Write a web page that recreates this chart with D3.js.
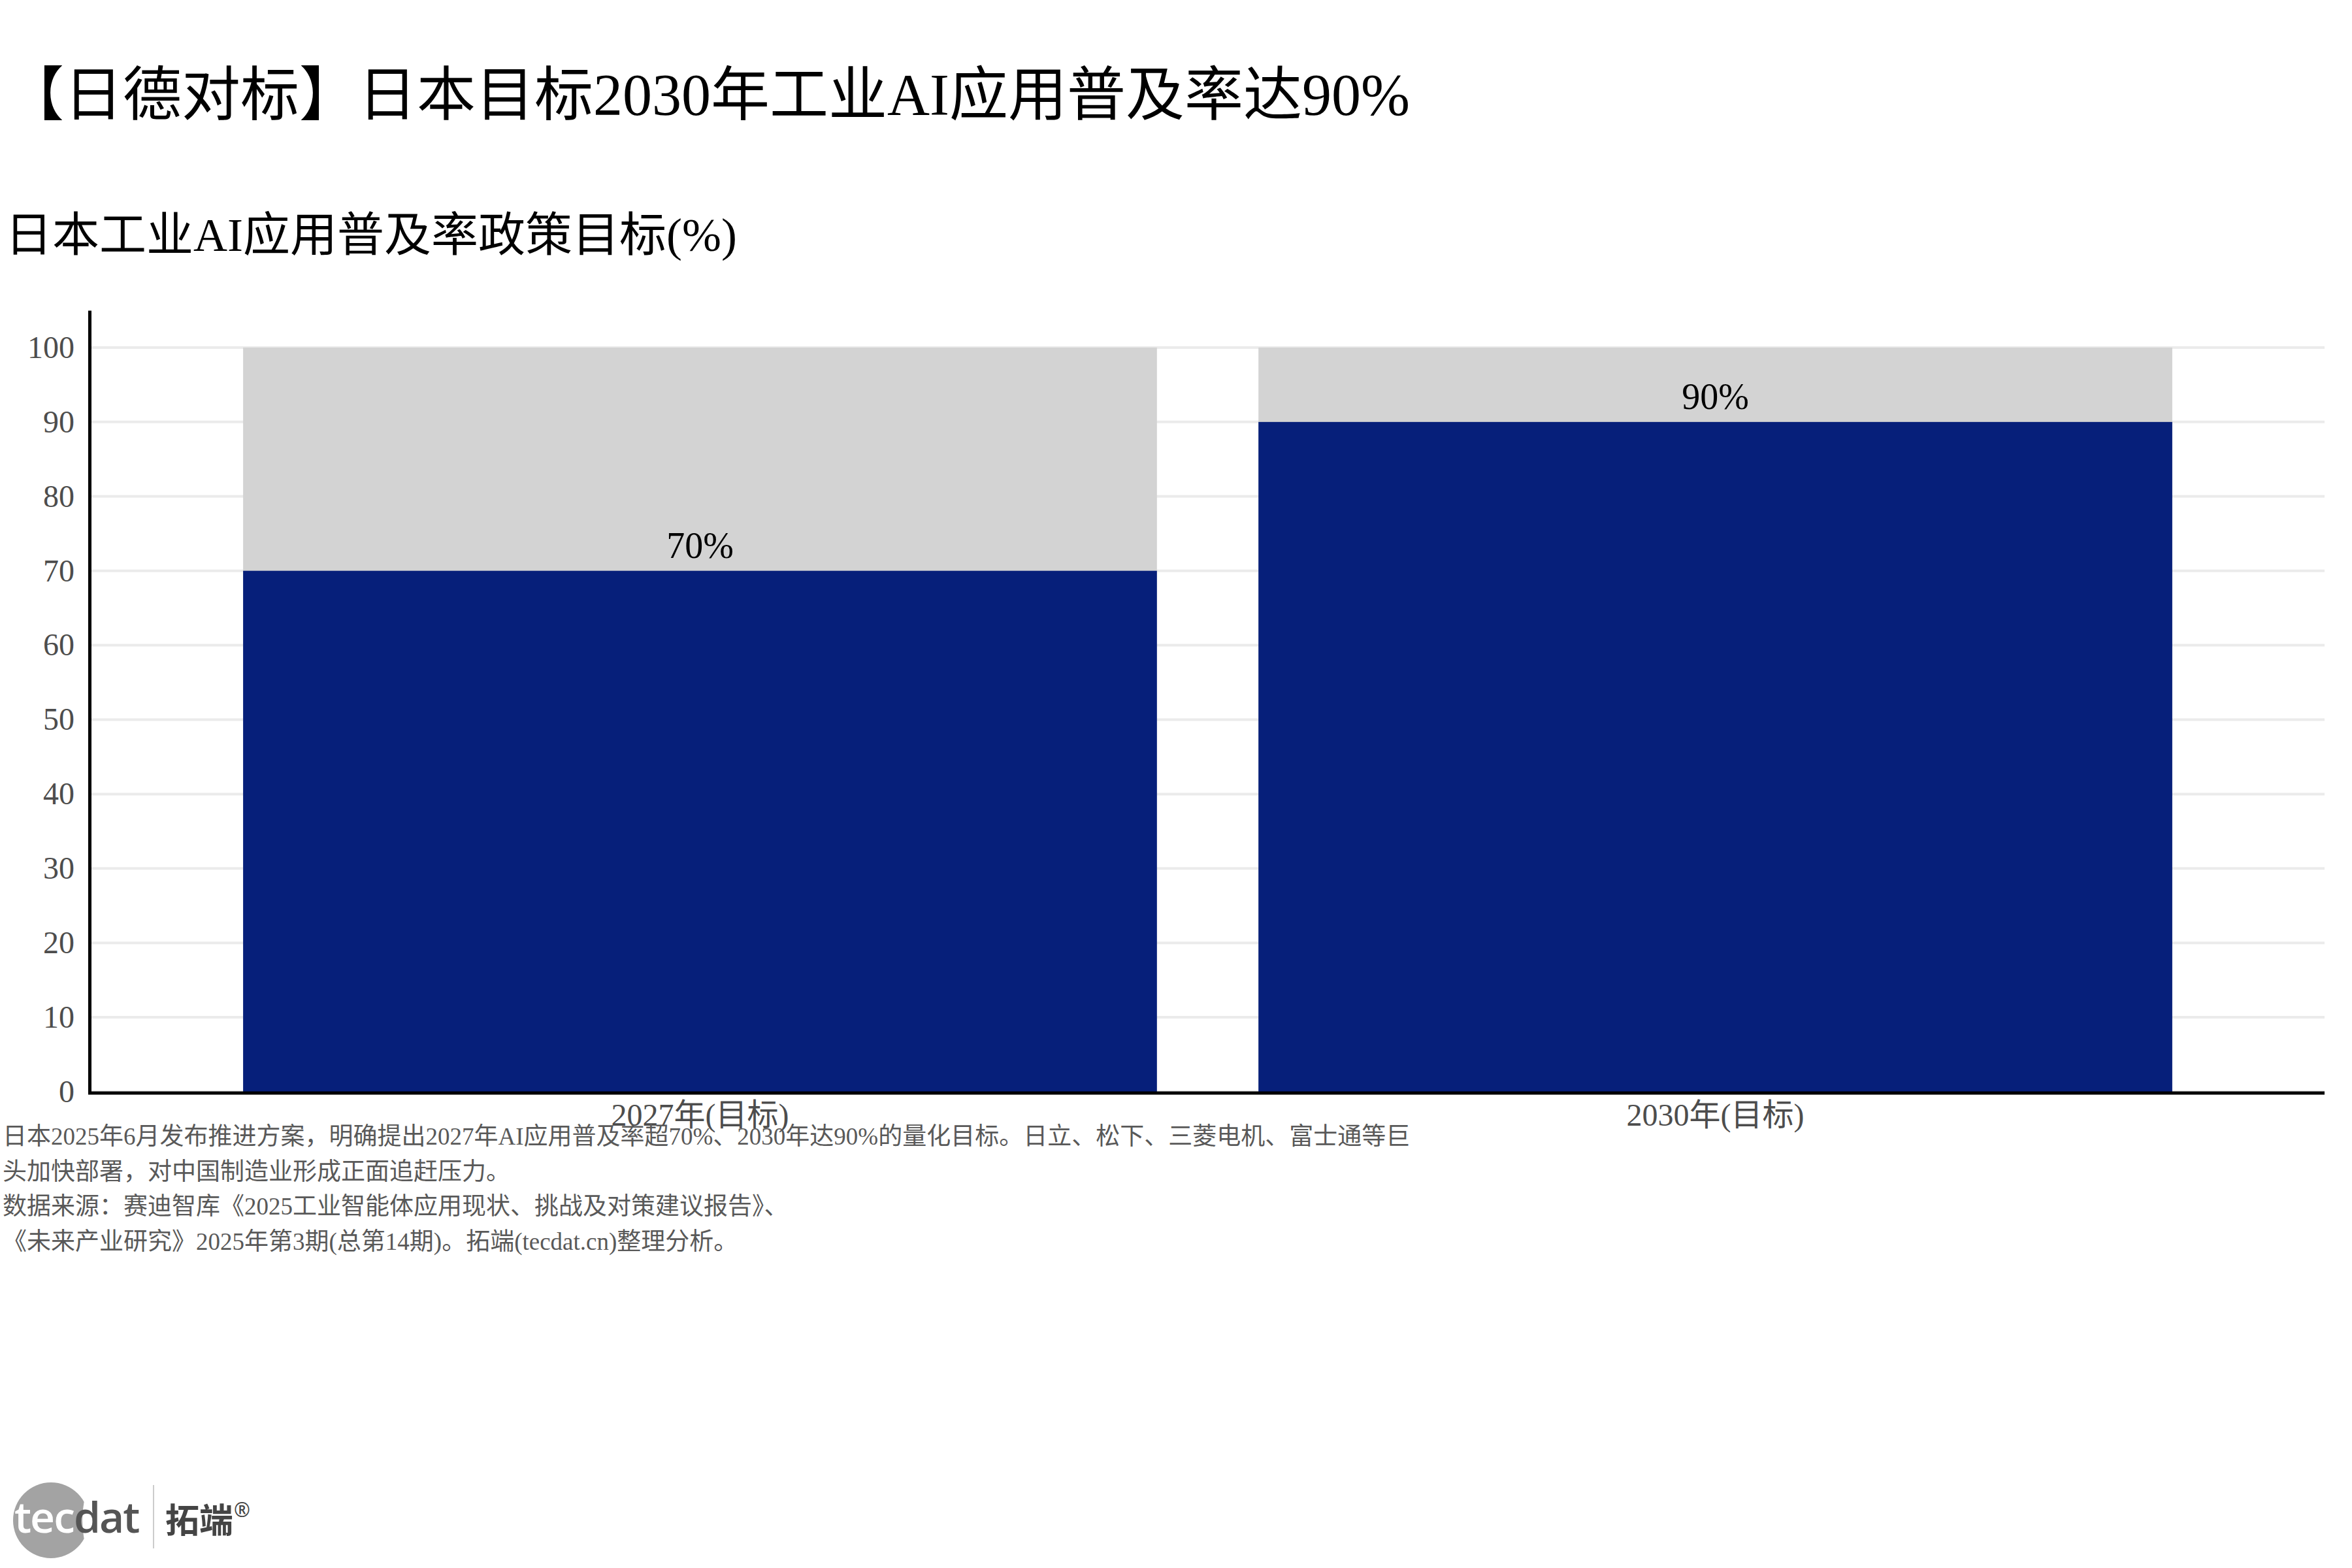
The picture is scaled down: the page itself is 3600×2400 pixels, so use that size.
<!DOCTYPE html>
<html>
<head>
<meta charset="utf-8">
<script src="https://cdn.jsdelivr.net/npm/d3@7/dist/d3.min.js"></script>
<style>
  html, body { margin: 0; padding: 0; background: #ffffff; }
  svg { display: block; }
</style>
</head>
<body>
<svg id="chart" width="3600" height="2400"></svg>
<script>
// ---- data ----
const categories = ["2027年(目标)", "2030年(目标)"];
const targetValues = [70, 90];
const fullValues = [100, 100];
const valueLabels = ["70%", "90%"];
const yTicks = [0, 10, 20, 30, 40, 50, 60, 70, 80, 90, 100];
const titleText = "【日德对标】日本目标2030年工业AI应用普及率达90%";
const subtitleText = "日本工业AI应用普及率政策目标(%)";
const captionLines = [
  "日本2025年6月发布推进方案，明确提出2027年AI应用普及率超70%、2030年达90%的量化目标。日立、松下、三菱电机、富士通等巨",
  "头加快部署，对中国制造业形成正面追赶压力。",
  "数据来源：赛迪智库《2025工业智能体应用现状、挑战及对策建议报告》、",
  "《未来产业研究》2025年第3期(总第14期)。拓端(tecdat.cn)整理分析。"
];

(function () {
const FONT = '"Liberation Serif", "Noto Sans CJK SC", serif';
const svg = d3.select("#chart");

// ---- layout ----
const plotLeft = 139, plotRight = 3558, plotTop = 475, plotBottom = 1671;

const x = d3.scaleBand()
  .domain(categories)
  .range([plotLeft, plotRight])
  .paddingInner(0.1)
  .paddingOuter(0.15);

const y = d3.scaleLinear()
  .domain([0, 105])
  .range([plotBottom, plotTop]);

const rows = categories.map((c, i) => ({
  cat: c, value: targetValues[i], full: fullValues[i], label: valueLabels[i]
}));

// titles
svg.append("text")
  .attr("x", 8).attr("y", 176)
  .attr("font-family", FONT).attr("font-size", 90).attr("fill", "#000")
  .text(titleText);

svg.append("text")
  .attr("x", 8).attr("y", 384)
  .attr("font-family", FONT).attr("font-size", 72).attr("fill", "#000")
  .text(subtitleText);

// gridlines
svg.append("g")
  .selectAll("line")
  .data(yTicks)
  .join("line")
  .attr("x1", plotLeft).attr("x2", plotRight)
  .attr("y1", d => y(d)).attr("y2", d => y(d))
  .attr("stroke", "#ebebeb").attr("stroke-width", 4);

// background (100%) bars
svg.append("g")
  .selectAll("rect")
  .data(rows)
  .join("rect")
  .attr("x", d => x(d.cat))
  .attr("width", x.bandwidth())
  .attr("y", d => y(d.full))
  .attr("height", d => y(0) - y(d.full))
  .attr("fill", "#d3d3d3");

// target bars
svg.append("g")
  .selectAll("rect")
  .data(rows)
  .join("rect")
  .attr("x", d => x(d.cat))
  .attr("width", x.bandwidth())
  .attr("y", d => y(d.value))
  .attr("height", d => y(0) - y(d.value))
  .attr("fill", "#061f7a");

// value labels
svg.append("g")
  .selectAll("text")
  .data(rows)
  .join("text")
  .attr("x", d => x(d.cat) + x.bandwidth() / 2)
  .attr("y", d => y(d.value) - 20)
  .attr("text-anchor", "middle")
  .attr("font-family", FONT).attr("font-size", 56).attr("fill", "#000")
  .text(d => d.label);

// y axis
const yAxis = svg.append("g")
  .attr("transform", `translate(${plotLeft - 2},0)`)
  .call(d3.axisLeft(y).tickValues(yTicks).tickSize(0).tickSizeOuter(0).tickPadding(23));
yAxis.select(".domain").attr("stroke", "#000").attr("stroke-width", 5);
yAxis.selectAll(".tick text")
  .attr("font-family", FONT).attr("font-size", 48).attr("fill", "#4d4d4d");

// x axis
const xAxis = svg.append("g")
  .attr("transform", `translate(0,${plotBottom + 2})`)
  .call(d3.axisBottom(x).tickSize(0).tickSizeOuter(0).tickPadding(16));
xAxis.select(".domain").attr("stroke", "#000").attr("stroke-width", 5)
  .attr("d", `M${plotLeft - 4},0H${plotRight}`);
xAxis.selectAll(".tick text")
  .attr("font-family", FONT).attr("font-size", 48).attr("fill", "#4d4d4d");

// caption
svg.append("g")
  .selectAll("text")
  .data(captionLines)
  .join("text")
  .attr("x", 4)
  .attr("y", (d, i) => 1752 + i * 53.5)
  .attr("font-family", FONT).attr("font-size", 37).attr("fill", "#595959")
  .text(d => d);

// logo
const logo = svg.append("g");
logo.append("circle").attr("cx", 78).attr("cy", 2327).attr("r", 58).attr("fill", "#a3a3a3");
logo.append("ellipse").attr("cx", 158).attr("cy", 2327).attr("rx", 32).attr("ry", 70).attr("fill", "#ffffff");
logo.append("text")
  .attr("x", 22).attr("y", 2346)
  .attr("font-family", '"Open Sans", "Noto Sans", sans-serif')
  .attr("font-size", 66).attr("font-weight", 600).attr("letter-spacing", -2)
  .html('<tspan fill="#ffffff">tec</tspan><tspan fill="#555555">dat</tspan>');
logo.append("line")
  .attr("x1", 235).attr("x2", 235).attr("y1", 2273).attr("y2", 2370)
  .attr("stroke", "#cccccc").attr("stroke-width", 2);
logo.append("text")
  .attr("x", 253).attr("y", 2346)
  .attr("font-family", '"Noto Sans CJK SC", sans-serif')
  .attr("font-size", 52).attr("font-weight", 700).attr("fill", "#444444")
  .text("拓端");
logo.append("text")
  .attr("x", 358).attr("y", 2322)
  .attr("font-family", '"Noto Sans", sans-serif')
  .attr("font-size", 30).attr("fill", "#444444")
  .text("®");
})();
</script>
</body>
</html>
